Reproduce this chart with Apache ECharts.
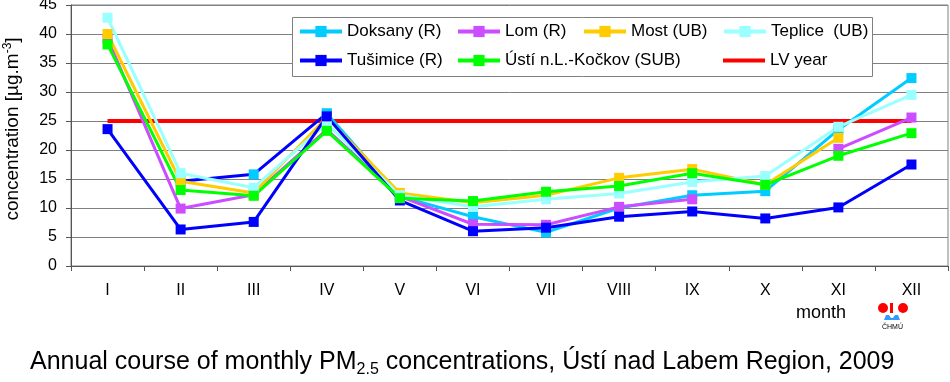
<!DOCTYPE html>
<html>
<head>
<meta charset="utf-8">
<script src="https://cdn.jsdelivr.net/npm/echarts@6/dist/echarts.min.js"></script>
<style>
html,body{margin:0;padding:0;background:#fff;}
#c{width:950px;height:382px;}
</style>
</head>
<body>
<div id="c"></div>
<script>
const months = ['I','II','III','IV','V','VI','VII','VIII','IX','X','XI','XII'];
const doksany  = [null, 14.6, 15.8, 26.3, 12.0, 8.5, 5.8, 10.0, 12.2, 12.9, 23.5, 32.4];
const lom      = [39.2, 9.9, 12.3, 23.5, 12.0, 7.2, 7.1, 10.2, 11.5, null, 20.2, 25.6];
const most     = [40.0, 14.6, 12.6, 25.6, 12.6, 10.9, 12.2, 15.2, 16.7, 14.0, 22.1, null];
const teplice  = [42.8, 16.0, 13.5, 24.6, 12.2, 10.2, 11.5, 12.5, 14.5, 15.5, 24.0, 29.5];
const tusimice = [23.6, 6.3, 7.6, 25.8, 11.3, 6.0, 6.6, 8.5, 9.4, 8.2, 10.1, 17.5];
const usti     = [38.2, 13.1, 12.1, 23.3, 11.7, 11.2, 12.8, 13.8, 16.0, 14.0, 19.0, 22.9];
const lvYear   = [25, 25, 25, 25, 25, 25, 25, 25, 25, 25, 25, 25];
const yTicks   = [0, 5, 10, 15, 20, 25, 30, 35, 40, 45];

const FONT = '"Liberation Sans", Arial, sans-serif';
const C = {
  dok: '#00CCFF', lom: '#CC4CFF', most: '#FFCC00', tep: '#99FFFF',
  tus: '#0000FF', usti: '#00FF00', lv: '#FF0000'
};

function ls(name, data, color) {
  return {
    name, type: 'line', data, color,
    symbol: 'rect', symbolSize: 10,
    lineStyle: { width: 3, color },
    itemStyle: { color },
    connectNulls: false, animation: false,
    emphasis: { disabled: true }
  };
}

// Doksany: segments II-IV drawn in dark blue in the original
const dokMain = doksany.map((v, i) => i < 3 ? null : v);
const dokSeg = doksany.map((v, i) => (i >= 1 && i <= 3) ? { value: v, itemStyle: { color: C.dok } } : null);

const series = [
  { name: 'LV year', type: 'line', data: lvYear, color: C.lv, symbol: 'none',
    lineStyle: { width: 4, color: C.lv }, itemStyle: { color: C.lv }, animation: false, emphasis: { disabled: true } },
  Object.assign(ls('dokSeg', dokSeg, C.tus), { lineStyle: { width: 3, color: C.tus } }),
  ls('Doksany (R)', dokMain, C.dok),
  ls('Lom (R)', lom, C.lom),
  ls('Most (UB)', most, C.most),
  ls('Teplice  (UB)', teplice, C.tep),
  ls('Tušimice (R)', tusimice, C.tus),
  ls('Ústí n.L.-Kočkov (SUB)', usti, C.usti)
];

function leg(name, left, cy) {
  return {
    data: [name], left, top: cy - 9, padding: 0, itemWidth: 42, itemHeight: 14, itemGap: 0,
    lineStyle: { width: 4 },
    textStyle: { fontFamily: FONT, fontSize: 17, color: '#000' }, selectedMode: false, z: 10
  };
}

const option = {
  animation: false,
  grid: { left: 71, right: 2, top: 5, bottom: 116, show: true, borderColor: '#808080', borderWidth: 1,
          containLabel: false, outerBoundsMode: 'none' },
  xAxis: {
    type: 'category', data: months, boundaryGap: true,
    axisLine: { lineStyle: { color: '#555', width: 1 } },
    axisTick: { show: true, length: 5, lineStyle: { color: '#555' } },
    axisLabel: { fontFamily: FONT, fontSize: 16, color: '#000', margin: 17 },
    splitLine: { show: false }
  },
  yAxis: {
    type: 'value', min: 0, max: 45, interval: 5,
    axisLine: { show: true, lineStyle: { color: '#555', width: 1 } },
    axisTick: { show: true, length: 5, lineStyle: { color: '#555' } },
    axisLabel: { fontFamily: FONT, fontSize: 16, color: '#000', margin: 14,
      formatter: v => yTicks.includes(v) ? String(v) : '' },
    splitLine: { show: true, lineStyle: { color: '#808080', width: 1 } }
  },
  legend: [
    leg('Doksany (R)', 298, 32),
    leg('Lom (R)', 456, 32),
    leg('Most (UB)', 582, 32),
    leg('Teplice  (UB)', 722, 32),
    leg('Tušimice (R)', 298, 61),
    leg('Ústí n.L.-Kočkov (SUB)', 456, 61),
    Object.assign(leg('LV year', 723, 61), { icon: 'rect', itemHeight: 4, top: 52 })
  ],
  graphic: [
    { type: 'rect', shape: { x: 292.5, y: 17.5, width: 580, height: 59 },
      style: { fill: '#fff', stroke: '#808080', lineWidth: 1 }, z: 5 },
    { type: 'text', x: 12, y: 129, rotation: Math.PI / 2,
      style: { text: '{a|concentration [µg.m}{s|-3}{a|]}', align: 'center', verticalAlign: 'middle',
        rich: { a: { font: '19px ' + FONT, fill: '#000', verticalAlign: 'bottom', lineHeight: 21 },
                s: { font: '12px ' + FONT, fill: '#000', verticalAlign: 'top', lineHeight: 21 } } } },
    { type: 'text', x: 796, y: 304,
      style: { text: 'month', font: '18px ' + FONT, fill: '#000' } },
    { type: 'text', x: 30, y: 350,
      style: { text: '{a|Annual course of monthly PM}{b|2.5}{a| concentrations, Ústí nad Labem Region, 2009}',
        rich: { a: { font: '25px ' + FONT, fill: '#000', verticalAlign: 'top', lineHeight: 28 },
                b: { font: '16px ' + FONT, fill: '#000', verticalAlign: 'bottom', lineHeight: 28, padding: [12, 0, 0, 0] } } } },
    { type: 'circle', shape: { cx: 883, cy: 308, r: 5 }, style: { fill: '#FF0000' } },
    { type: 'circle', shape: { cx: 903, cy: 308, r: 5 }, style: { fill: '#FF0000' } },
    { type: 'rect', shape: { x: 890, y: 303, width: 3, height: 10 }, style: { fill: '#FF0000' } },
    { type: 'polygon', shape: { points: [[884,320],[886,315],[889,315],[891,318],[893,318],[895,315],[898,315],[900,320]] },
      style: { fill: '#3399FF' } },
    { type: 'text', x: 882, y: 324,
      style: { text: 'ČHMÚ', font: '7px ' + FONT, fill: '#000' } }
  ],
  series
};

const chart = echarts.init(document.getElementById('c'), null, { renderer: 'canvas' });
chart.setOption(option);
</script>
</body>
</html>
